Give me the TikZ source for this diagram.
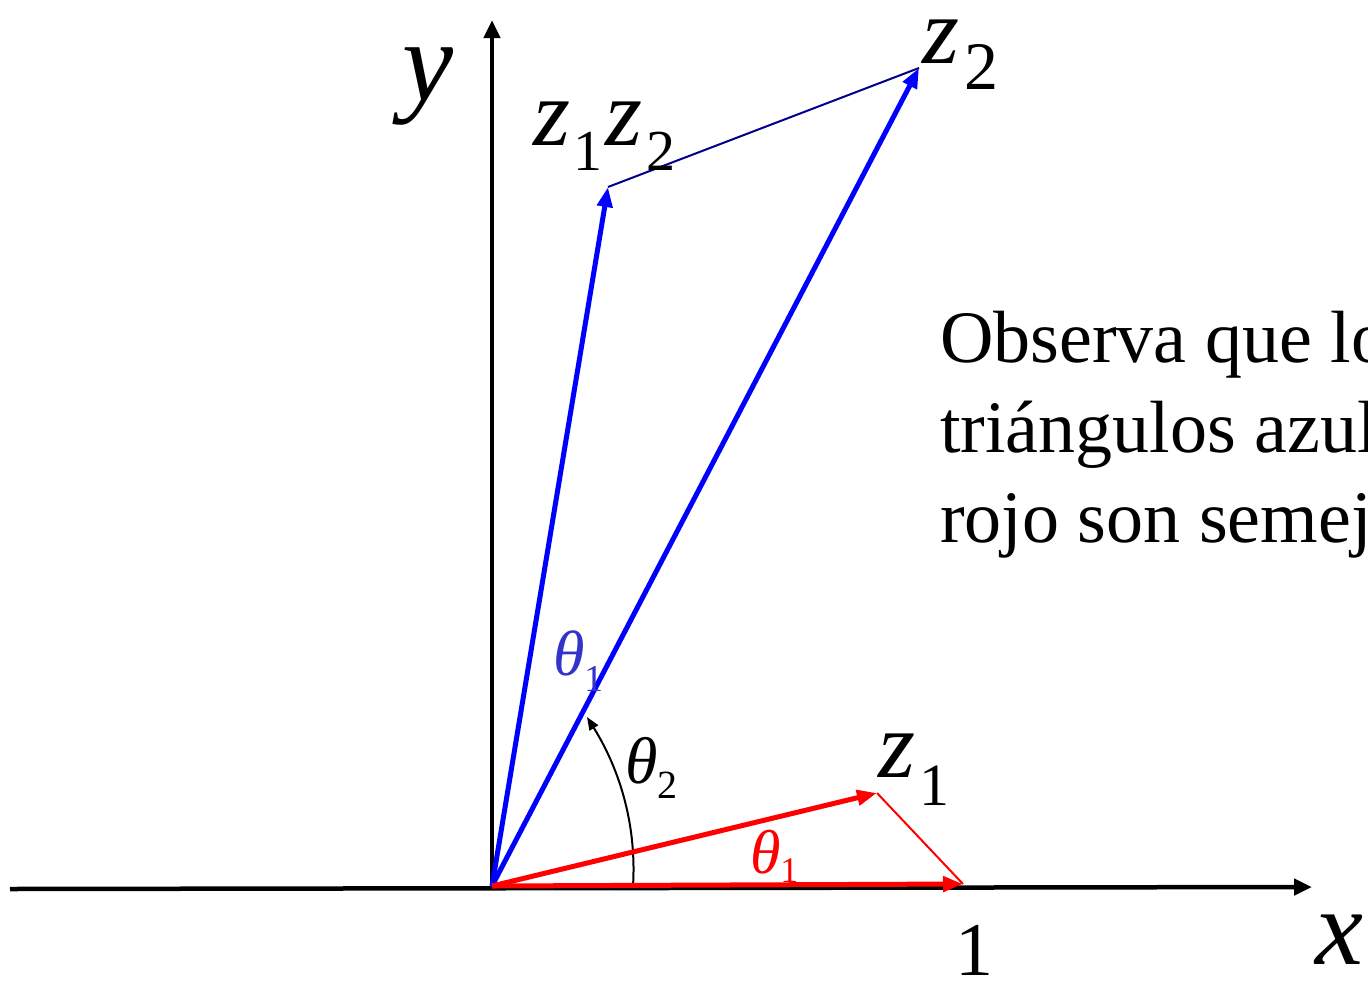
\documentclass[tikz,border=0pt]{standalone}
\usepackage{fontspec}
\setmainfont{Liberation Serif}
\usetikzlibrary{arrows.meta}
\definecolor{navyline}{RGB}{0,0,140}
\definecolor{labblue}{RGB}{51,51,204}
\newcommand\fs[1]{\fontsize{#1}{#1}\selectfont}
\begin{document}
\begin{tikzpicture}[x=1pt,y=-1pt,
  axis/.style={line width=4.5pt,-{Triangle[length=18pt,width=16pt]}},
  vec/.style={line width=5pt,-{Triangle[length=20pt,width=15pt]}},
  thinline/.style={line width=2pt},
  arcline/.style={line width=2pt,-{Triangle[length=13pt,width=10pt]}},
  lab/.style={inner sep=0pt,outer sep=0pt},
  note/.style={inner sep=0pt,outer sep=0pt,anchor=base west,font=\fs{74}}]
\useasboundingbox (0,0) rectangle (1368,980);
\clip (0,0) rectangle (1368,980);
% points
\coordinate (O) at (492,886);
\coordinate (xs) at (10,889);
\coordinate (xe) at (1312,887);
\coordinate (yb) at (492,889);
\coordinate (ye) at (492,20);
\coordinate (one) at (963,884);
\coordinate (z1) at (877,793);
\coordinate (z2) at (919,68);
\coordinate (z12) at (608,187);
\coordinate (as) at (633,886);
\coordinate (ae) at (587,717);
% axes
\draw[axis] (xs) -- (xe);
\draw[axis] (yb) -- (ye);
% thin sides
\draw[thinline,red] (z1) -- (one);
\draw[thinline,navyline] (z12) -- (z2);
% angle arc
\draw[arcline] (as) .. controls (637,820) and (617,765) .. (ae);
% vectors
\draw[vec,blue] (O) -- (z2);
\draw[vec,blue] (O) -- (z12);
\draw[vec,red] (O) -- (z1);
\draw[vec,red] (O) -- (one);
% labels
\node[lab,anchor=base west] (ly) at (402,100) {\fs{115}\itshape y};
\node[lab,anchor=base west] (lx) at (1315,964) {\fs{108}\itshape x};
\node[lab,anchor=base west] (l1) at (955,975) {\fs{76}1};
\node[lab,anchor=base west] (lz2) at (922,63) {\fs{95}\itshape z\upshape\kern6pt\raisebox{-26pt}{\fs{68}2}};
\node[lab,anchor=base west] (lz12) at (533,145) {\fs{95}\itshape z\upshape\kern4pt\raisebox{-25pt}{\fs{58}1}\kern3pt\itshape z\upshape\kern4pt\raisebox{-25pt}{\fs{58}2}};
\node[lab,anchor=base west] (lz1) at (878,777) {\fs{95}\itshape z\upshape\kern5pt\raisebox{-28pt}{\fs{60}1}};
\node[lab,anchor=base west,text=labblue] (lt1b) at (553,675) {\fs{64}\itshape\char"03B8\upshape\raisebox{-16pt}{\fs{38}1}};
\node[lab,anchor=base west] (lt2) at (625,783) {\fs{66}\itshape\char"03B8\upshape\raisebox{-15pt}{\fs{40}2}};
\node[lab,anchor=base west,text=red] (lt1r) at (750,873) {\fs{62}\itshape\char"03B8\upshape\raisebox{-9pt}{\fs{36}1}};
% text
\node[note] (obs1) at (940,362) {Observa que lo};
\node[note] (obs2) at (940,452) {triángulos azul};
\node[note] (obs3) at (940,542) {rojo son semej};
\end{tikzpicture}
\end{document}
